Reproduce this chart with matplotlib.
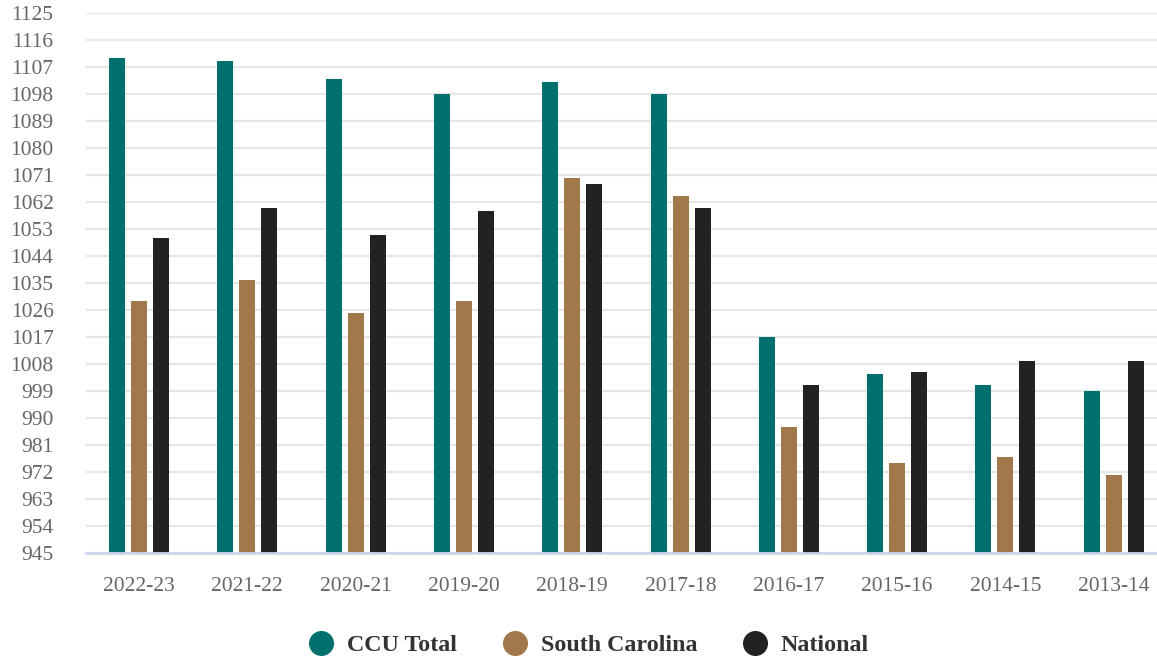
import matplotlib
matplotlib.use("Agg")
import matplotlib.pyplot as plt
from matplotlib.lines import Line2D
import numpy as np

categories = ["2022-23", "2021-22", "2020-21", "2019-20", "2018-19",
              "2017-18", "2016-17", "2015-16", "2014-15", "2013-14"]
ccu_total = [1110, 1109, 1103, 1098, 1102, 1098, 1017, 1004.7, 1001, 999]
south_carolina = [1029, 1036, 1025, 1029, 1070, 1064, 987, 975, 977, 971]
national = [1050, 1060, 1051, 1059, 1068, 1060, 1001, 1005.5, 1009, 1009]
series_names = ["CCU Total", "South Carolina", "National"]
yticks = list(range(945, 1126, 9))

colors = ["#00706E", "#A0784A", "#222222"]

W, H = 1157, 659
fig = plt.figure(figsize=(W / 100, H / 100), dpi=100)
ax = fig.add_axes([85.5 / W, 1 - 553.3 / H, 1 - 85.5 / W, (553.3 - 13.3) / H])

x = np.arange(len(categories))
bw = 16 / 108.3
off = 22 / 108.3
for i, (vals, c) in enumerate(zip([ccu_total, south_carolina, national], colors)):
    ax.bar(x + (i - 1) * off, np.array(vals) - 945, bottom=945, width=bw,
           color=c, zorder=3, linewidth=0)

ax.set_ylim(945, 1125)
ax.set_xlim((85.5 - 139) / 108.3, (W - 139) / 108.3)
ax.set_yticks(yticks)
ax.set_yticklabels([str(v) for v in yticks])
ax.set_xticks(x)
ax.set_xticklabels(categories)

serif = ["Liberation Serif", "DejaVu Serif"]
for lab in ax.get_yticklabels() + ax.get_xticklabels():
    lab.set_family(serif)
    lab.set_fontsize(15.5)
    lab.set_color("#666666")

ax.tick_params(axis="y", length=0, pad=23)
ax.tick_params(axis="x", length=0, pad=17)
ax.grid(axis="y", color="#e6e6e6", linewidth=1.6, zorder=0)
ax.set_axisbelow(True)
for s in ["top", "right", "left"]:
    ax.spines[s].set_visible(False)
ax.spines["bottom"].set_color("#ccd6eb")
ax.spines["bottom"].set_linewidth(2)
ax.spines["bottom"].set_zorder(4)

handles = [Line2D([0], [0], marker="o", linestyle="", markersize=17,
                  markerfacecolor=c, markeredgecolor=c) for c in colors]
leg = fig.legend(handles, series_names, loc="center", ncol=3,
                 bbox_to_anchor=(589 / W, 1 - 645 / H), frameon=False,
                 prop={"family": serif, "weight": "bold", "size": 17.3},
                 handletextpad=0.58, columnspacing=1.9, handlelength=1.0)
for t in leg.get_texts():
    t.set_color("#333333")

fig.savefig("out.png", dpi=100, facecolor="white")
